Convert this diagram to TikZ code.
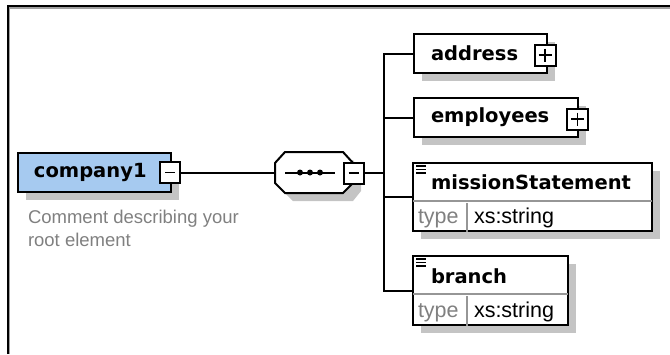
\documentclass[tikz,border=0pt]{standalone}
\usepackage{fontspec}
\setmainfont{Liberation Sans}
\newfontfamily\tagfont{DejaVu Sans}
\usetikzlibrary{shadows}

\definecolor{rootblue}{RGB}{166,202,240}
\definecolor{shadowgray}{RGB}{196,196,196}
\definecolor{framegray}{RGB}{160,160,160}
\definecolor{commentgray}{RGB}{128,128,128}
\definecolor{cellgray}{RGB}{150,150,150}

\begin{document}
\begin{tikzpicture}[x=1pt, y=-1pt, line width=2pt,
    every node/.style={inner sep=0pt},
    shadowed/.style={drop shadow={shadow xshift=8pt, shadow yshift=-8pt, fill=shadowgray, opacity=1}},
    elem/.style={draw, fill=white, shadowed, minimum height=39, align=left},
    tag/.style={font={\fontsize{19.5pt}{22pt}\tagfont\bfseries}},
    cell/.style={font={\fontsize{21.5pt}{24pt}\selectfont}},
    comment/.style={font={\fontsize{18.5pt}{23pt}\selectfont}, text=commentgray, align=left},
    minus/.style={draw, fill=white, minimum width=20, minimum height=21,
        path picture={\draw[line width=1.6pt] ([xshift=5pt]path picture bounding box.west) -- ([xshift=-5pt]path picture bounding box.east);}},
    plus/.style={draw, fill=white, minimum width=21, minimum height=21,
        path picture={\draw[line width=1.5pt] ([xshift=4pt]path picture bounding box.west) -- ([xshift=-4pt]path picture bounding box.east);
                      \draw[line width=1.5pt] ([yshift=-4pt]path picture bounding box.north) -- ([yshift=4pt]path picture bounding box.south);}}]
    \useasboundingbox (0,0) rectangle (670,354);
    % Frame
    \draw[framegray, line width=1.2pt] (9.2,354) -- (9.2,8) -- (670,8);
    \draw[line width=2pt] (7.7,354) -- (7.7,6.3) -- (670,6.3);
    % Root element
    \node[elem, tag, fill=rootblue, anchor=west, inner xsep=16pt, text width=121pt, shadowed] (company) at (17,172.5) {company1};
    \node[comment, anchor=north west] (companycomment) at (27,209) {Comment describing your\\root element};
    \node[minus] (companytoggle) at (170,172.5) {};
    % Sequence
    \node[minimum width=78, minimum height=41] (seq) at (314,172.5) {};
    \fill[shadowgray] (283,171) -- (293,160) -- (353,160) -- (361,171) -- (361,191) -- (353,201) -- (293,201) -- (283,191) -- cycle;
    \draw[fill=white] (275,163) -- (285,152) -- (343,152) -- (353,163) -- (353,183) -- (343,193) -- (285,193) -- (275,183) -- cycle;
    \draw ([xshift=-29pt]seq.center) -- ([xshift=21pt]seq.center);
    \foreach \dx in {-14,-4,6}
        \fill ([xshift=\dx pt]seq.center) circle (3);
    \node[minus] (seqtoggle) at (353.5,173) {};
    % Children
    \node[elem, tag, anchor=west, inner xsep=17pt, text width=99pt] (address) at (413,53.5) {address};
    \node[plus] (addresstoggle) at (545,55) {};
    \node[elem, tag, anchor=west, inner xsep=17pt, text width=130pt] (employees) at (413,117.5) {employees};
    \node[plus] (employeestoggle) at (577.5,119) {};
    \node[draw, fill=white, shadowed, minimum width=239, minimum height=68] (mission) at (532.5,197) {};
    \node[draw, fill=white, shadowed, minimum width=155, minimum height=69] (branch) at (490.5,290.5) {};
    % Rows of the typed elements
    \draw[cellgray, line width=1.2pt, shorten <=1pt, shorten >=1pt] ([yshift=-4pt]mission.west) -- ([yshift=-4pt]mission.east);
    \draw[cellgray, line width=1.2pt, shorten >=1pt] ([xshift=55pt]mission.south west) -- ([xshift=55pt,yshift=30pt]mission.south west);
    \draw[cellgray, line width=1.2pt, shorten <=1pt, shorten >=1pt] ([yshift=-3.5pt]branch.west) -- ([yshift=-3.5pt]branch.east);
    \draw[cellgray, line width=1.2pt, shorten >=1pt] ([xshift=55pt]branch.south west) -- ([xshift=55pt,yshift=31pt]branch.south west);
    \foreach \n in {mission,branch}
        \foreach \dy in {0,3.5,7}
            \draw[line width=1.6pt] ([shift={(4,4+\dy)}]\n.north west) -- ++(10,0);
    \node[tag, anchor=west] (missiontitle) at (430,182.5) {missionStatement};
    \node[cell, text=commentgray, anchor=base west] (missiontype) at (417,223) {type};
    \node[cell, anchor=base west] (missionvalue) at (473,223) {xs:string};
    \node[tag, anchor=west] (branchtitle) at (430,276) {branch};
    \node[cell, text=commentgray, anchor=base west] (branchtype) at (417,317) {type};
    \node[cell, anchor=base west] (branchvalue) at (473,317) {xs:string};
    % Connectors
    \coordinate (bus) at (384,173);
    \draw (companytoggle.east) -- (seq.west);
    \draw (seqtoggle.east) -- (bus);
    \foreach \n in {address,employees,mission,branch}
        \draw (\n.west) -| (bus);
\end{tikzpicture}
\end{document}
